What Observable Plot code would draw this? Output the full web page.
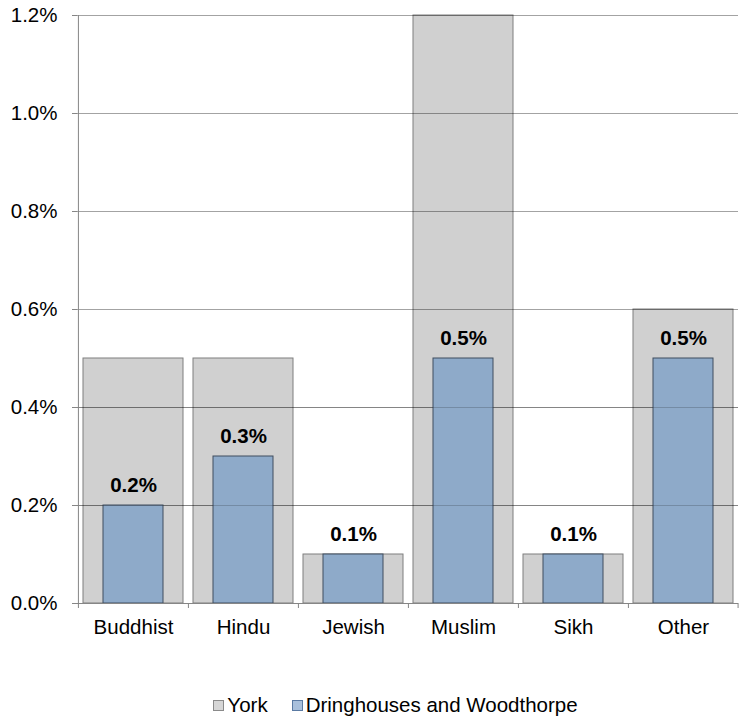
<!DOCTYPE html>
<html>
<head>
<meta charset="utf-8">
<script src="https://cdn.jsdelivr.net/npm/d3@7"></script>
<script src="https://cdn.jsdelivr.net/npm/@observablehq/plot@0.6"></script>
<style>
  body { margin: 0; background: #fff; font-family: "Liberation Sans", Arial, sans-serif; }
  #chart { width: 739px; }
  .legend { display: flex; justify-content: center; align-items: center; gap: 24px; font-size: 20.5px; color: #000; margin-top: 31px; padding-left: 52px; line-height: 24px; }
  .legend span.item { display: inline-flex; align-items: center; }
  .sw { display: inline-block; width: 11px; height: 11px; margin-right: 3px; box-sizing: border-box; }
</style>
</head>
<body>
<div id="chart"></div>
<script>
const categories = ["Buddhist", "Hindu", "Jewish", "Muslim", "Sikh", "Other"];
const york = [0.5, 0.5, 0.1, 1.2, 0.1, 0.6];
const dringhouses = [0.2, 0.3, 0.1, 0.5, 0.1, 0.5];
const yTicks = [0, 0.2, 0.4, 0.6, 0.8, 1.0, 1.2];
const seriesNames = ["York", "Dringhouses and Woodthorpe"];
const seriesColors = ["#d0d0d0", "#8eaac9"];
const seriesStrokes = ["#7f7f7f", "#3f4c5e"];
const legendFills = ["#d6d6d6", "#a9c0dc"];
const legendStrokes = ["#8a8a8a", "#5a7aa3"];

const yorkData = categories.map((c, i) => ({cat: c, v: york[i]}));
const dwData = categories.map((c, i) => ({cat: c, v: dringhouses[i]}));

const W = 739, H = 662;
const mL = 77, mR = 1, mT = 15, mB = 59;
const bw = (W - mL - mR) / categories.length;
const pxPerUnit = (H - mT - mB) / 1.2;
const tickLen = 5 / pxPerUnit;

const plot = Plot.plot({
  width: W,
  height: H,
  marginLeft: mL,
  marginRight: mR,
  marginTop: mT,
  marginBottom: mB,
  style: {fontFamily: "'Liberation Sans', Arial, sans-serif", fontSize: "20.5px", color: "#000", background: "#fff", overflow: "visible"},
  x: {domain: categories, paddingInner: 0, paddingOuter: 0, label: null},
  y: {domain: [0, 1.2], label: null},
  marks: [
    Plot.barY(yorkData, {x: "cat", y: "v", fill: seriesColors[0], stroke: seriesStrokes[0], strokeWidth: 1, insetLeft: 5, insetRight: 5}),
    Plot.ruleY(yTicks.filter(d => d > 0), {stroke: "#000", strokeOpacity: 0.36, strokeWidth: 1}),
    Plot.barY(dwData, {x: "cat", y: "v", fill: seriesColors[1], stroke: seriesStrokes[1], strokeWidth: 1, insetLeft: 25, insetRight: 25}),
    Plot.ruleY(yTicks.filter(d => d > 0 && d < 0.6), {stroke: "#000", strokeOpacity: 0.18, strokeWidth: 1}),
    Plot.text(dwData, {x: "cat", y: "v", text: d => d.v.toFixed(1) + "%", dy: -20, fontWeight: "bold", fontSize: 20.5, fill: "#000"}),
    Plot.ruleY([0], {stroke: "#868686", strokeWidth: 1}),
    Plot.ruleX([0], {x: () => categories[0], dx: -bw / 2, y1: 0, y2: 1.2, stroke: "#868686"}),
    Plot.ruleX(categories, {x: d => d, dx: -bw / 2, y1: 0, y2: -tickLen, stroke: "#868686", clip: false}),
    Plot.ruleX([categories[categories.length - 1]], {x: d => d, dx: bw / 2 - 0.5, y1: 0, y2: -tickLen, stroke: "#868686"}),
    Plot.axisY({ticks: yTicks, tickFormat: d => d.toFixed(1) + "%", tickSize: 5, tickPadding: 15, stroke: "#868686", fontSize: 20.5}),
    Plot.axisX({tickSize: 0, tickPadding: 16, fontSize: 20.5})
  ]
});
document.getElementById("chart").appendChild(plot);

const legend = document.createElement("div");
legend.className = "legend";
seriesNames.forEach((n, i) => {
  const it = document.createElement("span");
  it.className = "item";
  const sw = document.createElement("span");
  sw.className = "sw";
  sw.style.background = legendFills[i];
  sw.style.border = "1px solid " + legendStrokes[i];
  it.appendChild(sw);
  it.appendChild(document.createTextNode(n));
  legend.appendChild(it);
});
document.getElementById("chart").appendChild(legend);
</script>
</body>
</html>
